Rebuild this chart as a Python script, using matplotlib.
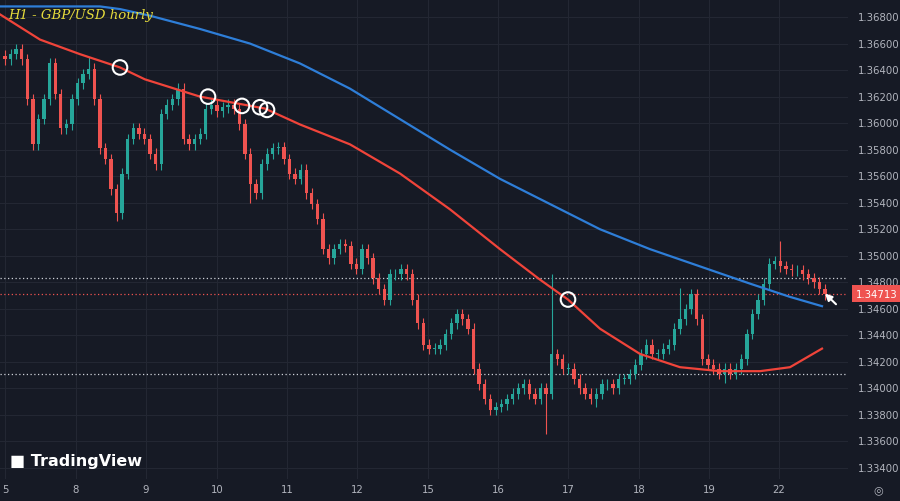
import matplotlib
matplotlib.use("Agg")
import matplotlib.pyplot as plt
import numpy as np

# hourly closes (pips above 1.3300)
closes_pips = [348,352,356,348,318,284,303,318,345,322,296,299,318,330,337,341,318,281,273,250,232,262,288,296,
               292,288,277,269,307,314,318,326,288,284,288,292,311,314,309,312,314,311,299,277,254,247,269,277,
               281,282,273,262,258,265,247,239,228,205,198,205,209,207,194,190,205,198,183,175,167,186,186,190,
               186,167,149,133,130,130,133,141,149,156,152,145,115,103,92,84,86,88,92,96,100,103,96,92,100,96,
               126,122,115,115,107,100,96,92,96,103,103,100,107,107,111,118,126,133,126,126,130,133,145,152,160,171,
               152,122,118,115,111,115,111,115,122,141,156,167,179,194,196,192,190,189,189,186,183,180,175,171]
spike_high = {15: 350, 31: 330, 38: 318, 98: 186, 121: 176, 139: 211}
spike_low = {20: 226, 44: 240, 88: 80, 97: 66, 106: 86, 129: 104}

day_labels = ["5", "8", "9", "10", "11", "12", "15", "16", "17", "18", "19", "22"]
day_px = [5, 76, 146, 217, 287, 357, 428, 498, 568, 639, 709, 779]

ma_red_px = [0,40,80,120,145,200,265,300,350,400,450,500,540,568,600,640,680,720,760,790,822]
ma_red_pips = [382,363,352,342,333,320,311,299,284,262,235,205,182,167,145,126,116,113,113,116,130]
ma_blue_px = [0,100,120,150,200,250,300,350,400,450,500,550,600,650,700,750,790,822]
ma_blue_pips = [388,388,386,381,371,360,345,326,303,280,258,239,220,205,192,179,169,162]

circle_px = [120, 208, 242, 260, 267, 568]
circle_pips = [342, 320, 313, 312, 310, 167]

y_ticks = [1.334 + 0.002*i for i in range(18)]
last_price = 1.34713
hline_white = [1.3483, 1.3411]

BG = "#161a25"
UP, DN = "#26a69a", "#ef5350"

def px2h(x):
    return (np.asarray(x, float) - 5) * 24 / 70.4

closes = 1.33 + np.array(closes_pips) / 10000
n = len(closes)
t = np.linspace(0, px2h(825), n)
dt = t[1] - t[0]

fig = plt.figure(figsize=(9, 5.02), dpi=100, facecolor=BG)
ax = fig.add_axes([0, 22/502, 848/900, 480/502])
ax.set_facecolor(BG)
ax.set_xlim(px2h(0), px2h(848))
ax.set_ylim(1.3331 + 0.00007, 1.33 + 393.6/10000)

for v in y_ticks:
    ax.axhline(v, color="#232733", lw=0.8, zorder=0)
for d in day_px:
    ax.axvline(px2h(d), color="#232733", lw=0.8, zorder=0)

opens = np.concatenate([[closes[0] + 0.0003], closes[:-1]])
for i in range(n):
    o, c = opens[i], closes[i]
    col = UP if c >= o else DN
    hi = 1.33 + spike_high[i]/10000 if i in spike_high else max(o, c) + 0.0004
    lo = 1.33 + spike_low[i]/10000 if i in spike_low else min(o, c) - 0.0004
    ax.vlines(t[i], lo, hi, color=col, lw=0.8, zorder=2)
    h = max(abs(c - o), 0.00006)
    ax.add_patch(plt.Rectangle((t[i] - dt*0.3, min(o, c)), dt*0.6, h, color=col, lw=0, zorder=3))

ax.plot(px2h(ma_red_px), 1.33 + np.array(ma_red_pips)/10000, color="#f0443a", lw=1.6, zorder=4)
ax.plot(px2h(ma_blue_px), 1.33 + np.array(ma_blue_pips)/10000, color="#2e7ed8", lw=1.6, zorder=4)
ax.scatter(px2h(circle_px), 1.33 + np.array(circle_pips)/10000, s=110, facecolors="none",
           edgecolors="white", linewidths=1.5, zorder=5)

for v in hline_white:
    ax.axhline(v, color="#cfd2da", lw=0.9, ls=(0, (1, 2)), zorder=1)
ax.axhline(last_price, color=DN, lw=0.9, ls=(0, (1, 2)), zorder=1)

for sp in ax.spines.values():
    sp.set_visible(False)
ax.set_xticks([])
ax.set_yticks([])

trans = ax.get_yaxis_transform()
for v in y_ticks:
    ax.text(1.012, v, f"{v:.5f}", transform=trans, color="#b2b5be", fontsize=7.3, va="center", ha="left")
ax.text(1.009, last_price, f"{last_price:.5f}", transform=trans, color="white", fontsize=7.3,
        va="center", ha="left", bbox=dict(boxstyle="square,pad=0.35", fc=DN, ec="none"))

for lab, d in zip(day_labels, day_px):
    fig.text(d/900, 1 - 490/502, lab, color="#b2b5be", fontsize=7.3, ha="center", va="center")

ax.annotate("", xy=(px2h(823), 1.33+173/10000), xytext=(px2h(838), 1.33+162/10000),
            arrowprops=dict(arrowstyle="-|>", color="white", lw=1.5), zorder=6)

fig.text(8/900, 1 - 15/502, "H1 - GBP/USD hourly", color="#e6dc3c", fontsize=9.5,
         family="DejaVu Serif", style="italic", va="center")
fig.text(10/900, 1 - 462/502, "\u25a0 TradingView", color="white", fontsize=11.5, weight="bold", va="center")
fig.text(878/900, 1 - 490/502, "\u25ce", color="#b2b5be", fontsize=8, ha="center", va="center")

fig.savefig("out.png", dpi=100, facecolor=BG)
